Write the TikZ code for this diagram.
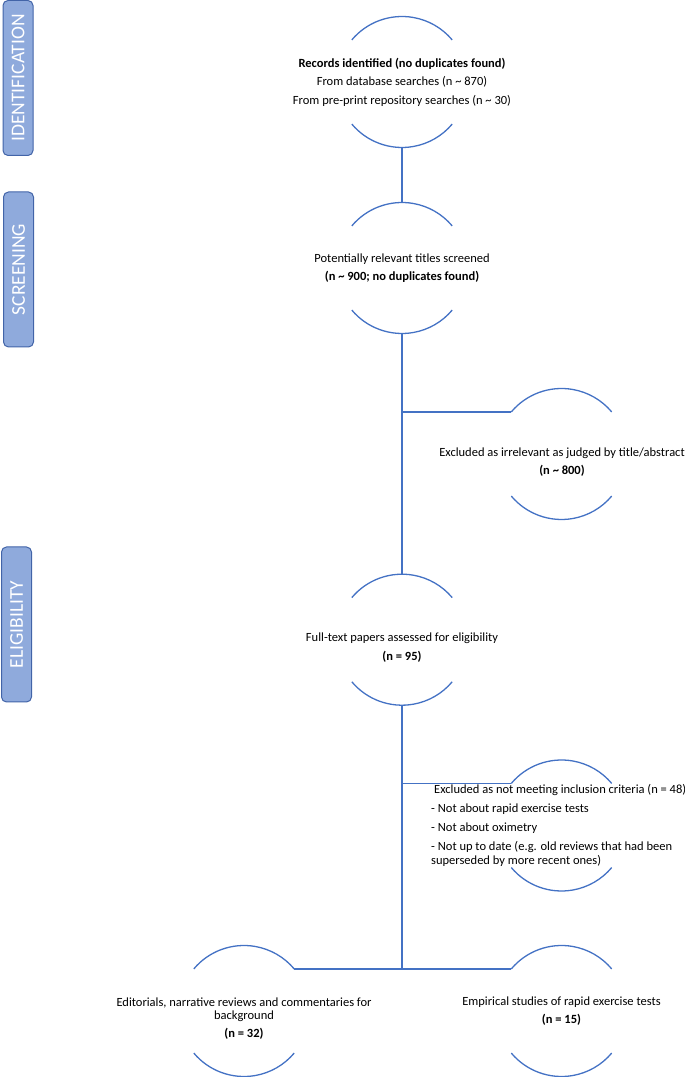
\documentclass[tikz,border=0pt]{standalone}
\usepackage{fontspec}
\setmainfont{Carlito}
\usetikzlibrary{positioning}
\definecolor{flowblue}{RGB}{68,114,196}
\definecolor{stagefill}{RGB}{143,170,220}
\definecolor{stagedraw}{RGB}{66,100,168}

\begin{document}
\begin{tikzpicture}[x=1pt,y=1pt,
ring/.style={circle,draw=none,minimum size=131pt,inner sep=0pt,outer sep=0pt},
arcline/.style={draw=flowblue,line width=1.3pt},
flow/.style={draw=flowblue,line width=1.3pt},
stage/.style={rectangle,rounded corners=5pt,fill=stagefill,draw=stagedraw,line width=1pt,minimum width=155pt,minimum height=30pt,inner sep=0pt,rotate=90,text=white,font=\fontsize{19.5}{20}\selectfont},
txt/.style={align=center,inner sep=0pt,font=\fontsize{12.5}{18.5}\selectfont}]
\useasboundingbox (0,0) rectangle (685,1077);

\node[stage] (ident) at (18,999) {IDENTIFICATION};
\node[stage] (screen) at (18.5,807.5) {SCREENING};
\node[stage] (elig) at (16.5,452.5) {ELIGIBILITY};

\node[ring] (rec) at (402,995) {};
\node[ring] (scr) at (402,809) {};
\node[ring] (irr) at (561.5,623) {};
\node[ring] (full) at (402,437.3) {};
\node[ring] (crit) at (561.5,251.5) {};
\node[ring] (edit) at (244,66) {};
\node[ring] (emp) at (561.5,66) {};

\draw[arcline] (rec.140) arc[start angle=140,end angle=40,radius=65.5pt];
\draw[arcline] (rec.220) arc[start angle=220,end angle=320,radius=65.5pt];
\draw[arcline] (scr.140) arc[start angle=140,end angle=40,radius=65.5pt];
\draw[arcline] (scr.220) arc[start angle=220,end angle=320,radius=65.5pt];
\draw[arcline] (irr.140) arc[start angle=140,end angle=40,radius=65.5pt];
\draw[arcline] (irr.220) arc[start angle=220,end angle=320,radius=65.5pt];
\draw[arcline] (full.140) arc[start angle=140,end angle=40,radius=65.5pt];
\draw[arcline] (full.220) arc[start angle=220,end angle=320,radius=65.5pt];
\draw[arcline] (crit.140) arc[start angle=140,end angle=40,radius=65.5pt];
\draw[arcline] (crit.220) arc[start angle=220,end angle=320,radius=65.5pt];
\draw[arcline] (edit.140) arc[start angle=140,end angle=40,radius=65.5pt];
\draw[arcline] (edit.220) arc[start angle=220,end angle=320,radius=65.5pt];
\draw[arcline] (emp.140) arc[start angle=140,end angle=40,radius=65.5pt];
\draw[arcline] (emp.220) arc[start angle=220,end angle=320,radius=65.5pt];

\node[txt] (rec-t) at (402,995) {\textbf{Records identified (no duplicates found)}\\From database searches (n \textasciitilde{} 870)\\From pre-print repository searches (n \textasciitilde{} 30)};
\node[txt] (scr-t) at (402,808.8) {Potentially relevant titles screened\\\textbf{(n \textasciitilde{} 900; no duplicates found)}};
\node[txt] (irr-t) at (562,614.8) {Excluded as irrelevant as judged by title/abstract\\\textbf{(n \textasciitilde{} 800)}};
\node[txt] (full-t) at (402,429.2) {Full-text papers assessed for eligibility\\\textbf{(n = 95)}};
\node[txt,align=left,anchor=north west,font=\fontsize{12.5}{14.5}\selectfont] (crit-t) at (431,293) {\hspace*{3pt}Excluded as not meeting inclusion criteria (n = 48)\\[4.5pt]- Not about rapid exercise tests\\[4.5pt]- Not about oximetry\\[4.5pt]- Not up to date (e.g. old reviews that had been\\superseded by more recent ones)};
\node[txt,font=\fontsize{12.5}{12.5}\selectfont] (edit-t) at (244,58.3) {Editorials, narrative reviews and commentaries for\\background\\[5.5pt]\textbf{(n = 32)}};
\node[txt] (emp-t) at (561.5,65.8) {Empirical studies of rapid exercise tests\\\textbf{(n = 15)}};

\draw[flow] (rec.south) -- (scr.north);
\draw[flow] (scr.south) -- (full.north);
\draw[flow] (scr.south |- irr.140) -- (irr.140);
\draw[flow] (full.south) -- (full.south |- edit.40);
\draw[flow] (full.south |- crit.140) -- (crit.140);
\draw[flow] (edit.40) -- (emp.140);

\end{tikzpicture}
\end{document}
